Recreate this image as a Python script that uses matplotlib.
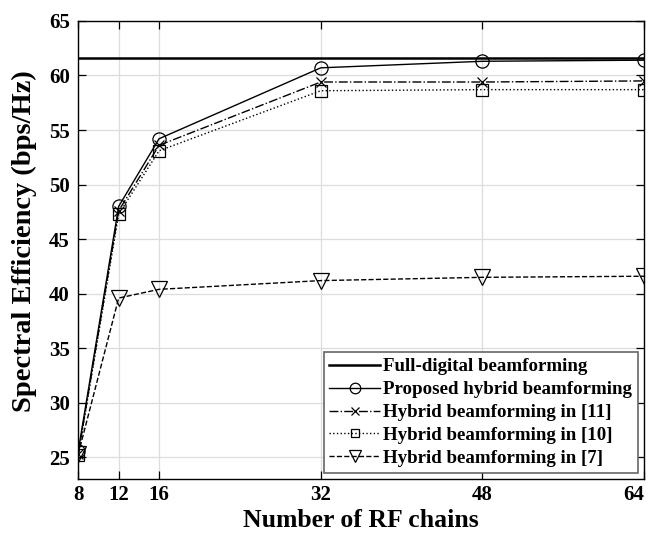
import numpy as np
import matplotlib
matplotlib.use("Agg")
from matplotlib import pyplot as plt

rf_chains = [8, 12, 16, 32, 48, 64]
full_digital = 61.6
proposed = [25.6, 48.0, 54.2, 60.7, 61.3, 61.4]
hybrid_11 = [25.3, 47.6, 53.6, 59.4, 59.4, 59.5]
hybrid_10 = [25.2, 47.3, 53.1, 58.6, 58.7, 58.7]
hybrid_7 = [25.3, 39.6, 40.4, 41.2, 41.5, 41.6]

plt.rcParams['font.family'] = ['Liberation Serif', 'DejaVu Serif']
plt.rcParams['font.weight'] = 'bold'

fig = plt.figure(figsize=(6.52, 5.36), dpi=100)
ax = fig.add_axes([0.12, 0.106, 0.868, 0.855])

ax.axhline(full_digital, color='black', lw=1.8, label='Full-digital beamforming')
ax.plot(rf_chains, proposed, '-', color='black', lw=1.0, marker='o', ms=9.5,
        mfc='none', mec='black', mew=0.9, label='Proposed hybrid beamforming')
ax.plot(rf_chains, hybrid_11, '-.', color='black', lw=1.0, marker='x', ms=7,
        mew=0.9, label='Hybrid beamforming in [11]')
ax.plot(rf_chains, hybrid_10, ':', color='black', lw=1.0, marker='s', ms=8,
        mfc='none', mec='black', mew=0.9, label='Hybrid beamforming in [10]')
ax.plot(rf_chains, hybrid_7, '--', color='black', lw=1.0, marker='v', ms=11,
        mfc='none', mec='black', mew=0.9, label='Hybrid beamforming in [7]')

ax.set_xlim(8, 64)
ax.set_ylim(23, 65)
ax.set_xticks(rf_chains)
ax.set_yticks(np.arange(25, 66, 5))
ax.grid(True, color='#dddddd', lw=0.9)
ax.tick_params(direction='in', top=True, right=True, length=6, width=0.9,
               labelsize=15, pad=6)
ax.tick_params(axis='x', pad=4)
for lbl in ax.get_xticklabels() + ax.get_yticklabels():
    lbl.set_fontweight('bold')
ax.get_xticklabels()[-1].set_horizontalalignment('right')
for sp in ax.spines.values():
    sp.set_linewidth(1.0)

ax.set_xlabel('Number of RF chains', fontsize=18.5, fontweight='bold', labelpad=3)
ax.set_ylabel('Spectral Efficiency (bps/Hz)', fontsize=20.5, fontweight='bold')
ax.yaxis.set_label_coords(-0.073, 0.52)

leg = ax.legend(loc='lower right', fancybox=False, framealpha=1,
                edgecolor='#666666', borderpad=0.3, labelspacing=0.3,
                handlelength=2.7, handletextpad=0.15, borderaxespad=0.35,
                markerscale=0.8, prop={'weight': 'bold', 'size': 13.6})
leg.get_frame().set_linewidth(1.2)

fig.savefig('out.png', dpi=100)
